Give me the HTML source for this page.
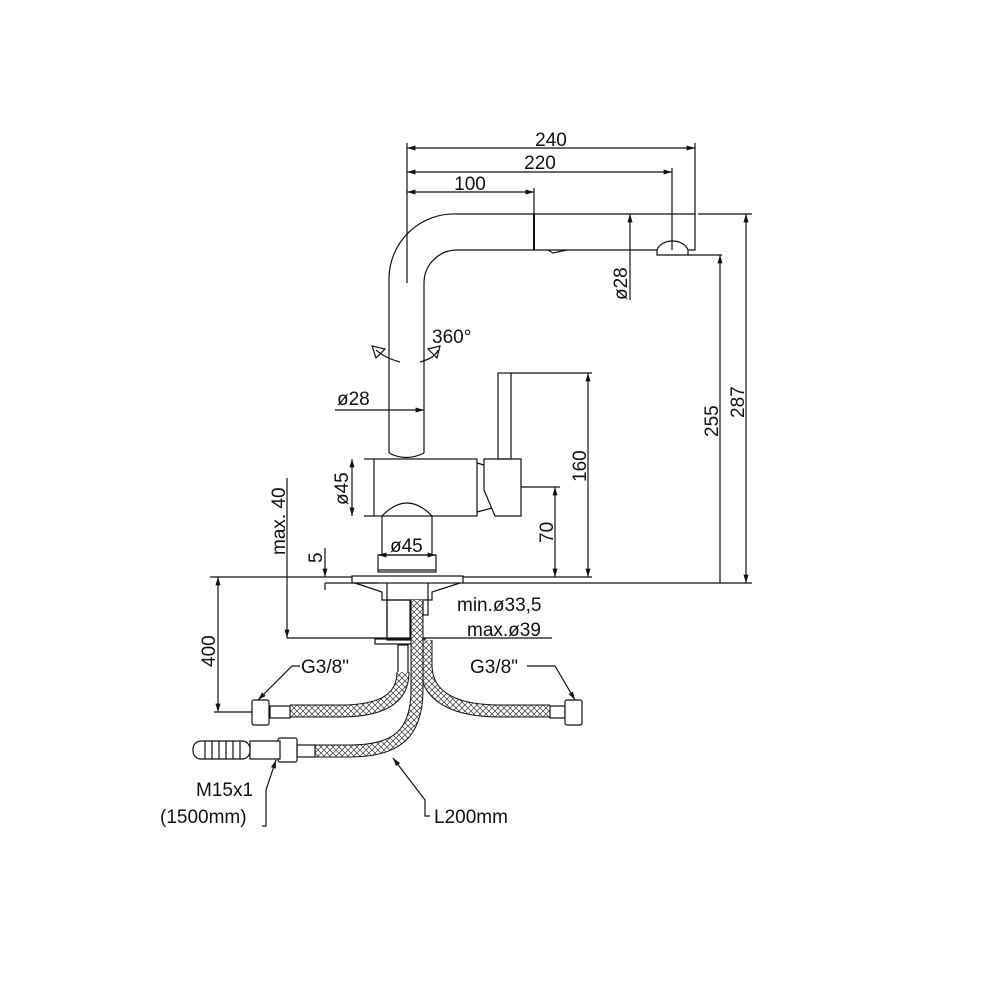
<!DOCTYPE html>
<html><head><style>html,body{margin:0;padding:0;background:#fff}svg{display:block}</style></head><body>
<svg width="1000" height="1000" viewBox="0 0 1000 1000" xmlns="http://www.w3.org/2000/svg" font-family="Liberation Sans, DejaVu Sans, sans-serif" font-size="19" fill="none" stroke="#111">
<defs>
<pattern id="h" width="6" height="6" patternUnits="userSpaceOnUse"><rect width="6" height="6" fill="#fff" stroke="none"/><path d="M0,0L6,6M6,0L0,6" stroke="#333" stroke-width="0.7"/></pattern>
<marker id="a" viewBox="0 0 10 10" refX="10" refY="5" markerWidth="7" markerHeight="7" orient="auto-start-reverse"><path d="M0,2L10,5L0,8" fill="#111" stroke="none"/></marker>
</defs>
<g stroke-width="1.2">
<line x1="407" y1="143" x2="407" y2="283"/>
<line x1="695" y1="143" x2="695" y2="214"/>
<line x1="672" y1="168" x2="672" y2="250"/>
<line x1="534" y1="188" x2="534" y2="214"/>
<line x1="407" y1="148" x2="695" y2="148" marker-start="url(#a)" marker-end="url(#a)"/>
<line x1="407" y1="172" x2="672" y2="172" marker-start="url(#a)" marker-end="url(#a)"/>
<line x1="407" y1="192" x2="534" y2="192" marker-start="url(#a)" marker-end="url(#a)"/>
<path d="M389,453 L389,279 A65,65 0 0 1 457,214 L695,214 L695,250 L688,250"/>
<path d="M424,453 L424,283 A33,33 0 0 1 457,250 L657,250"/>
<line x1="534" y1="214" x2="534" y2="250" stroke-width="2"/>
<path d="M548,250 L553,253 L567,250"/>
<path d="M657,255 L657,250 A16,12 0 0 1 688,250 L688,255 Z"/>
<line x1="698" y1="214" x2="752" y2="214"/>
<line x1="688" y1="255" x2="722" y2="255"/>
<line x1="746" y1="214" x2="746" y2="583" marker-start="url(#a)" marker-end="url(#a)"/>
<line x1="720" y1="255" x2="720" y2="583" marker-start="url(#a)"/>
<line x1="630" y1="214" x2="630" y2="300" marker-start="url(#a)"/>
<path d="M400,362 Q385,358 376,350"/><path d="M420,362 Q435,358 438,350"/>
<path d="M372,346 L385,349 L376,358 Z"/><path d="M440,346 L428,349 L437,358 Z"/>
<line x1="335" y1="410" x2="424" y2="410" marker-end="url(#a)"/>
<path d="M389,453 Q406,462 424,453"/>
<rect x="374" y="459" width="103" height="57"/>
<line x1="364" y1="459" x2="374" y2="459"/><line x1="364" y1="516" x2="374" y2="516"/>
<line x1="352" y1="459" x2="352" y2="516" marker-start="url(#a)" marker-end="url(#a)"/>
<rect x="498" y="373" width="13" height="86"/>
<line x1="511" y1="373" x2="592" y2="373"/>
<path d="M484,459 L521,459 L521,516 L495,516 L484,490 Z"/>
<path d="M477,463 L484,465"/><path d="M477,512 L492,508"/>
<line x1="521" y1="487" x2="560" y2="487"/>
<line x1="588" y1="373" x2="588" y2="577" marker-start="url(#a)" marker-end="url(#a)"/>
<line x1="555" y1="487" x2="555" y2="577" marker-start="url(#a)" marker-end="url(#a)"/>
<path d="M382,555 L382,516 Q407,490 432,516 L432,555"/>
<rect x="378" y="555" width="58" height="17"/>
<line x1="378" y1="555" x2="436" y2="555" marker-start="url(#a)" marker-end="url(#a)"/>
<line x1="378" y1="570" x2="436" y2="570"/>
<line x1="210" y1="577" x2="352" y2="577"/>
<line x1="463" y1="583" x2="752" y2="583"/>
<line x1="463" y1="577" x2="592" y2="577"/>
<rect x="352" y="576" width="111" height="7"/>
<path d="M355,583 L382,592 L382,600 L432,600 L432,592 L460,583"/>
<line x1="387" y1="583" x2="387" y2="640"/><line x1="428" y1="583" x2="428" y2="600"/>
<rect x="387" y="600" width="23" height="40"/>
<rect x="375" y="639" width="50" height="5"/>
<rect x="398" y="645" width="10" height="28"/>
<line x1="218" y1="577" x2="218" y2="712" marker-start="url(#a)" marker-end="url(#a)"/>
<line x1="214" y1="712" x2="252" y2="712"/>
<line x1="287" y1="478" x2="287" y2="638" marker-end="url(#a)"/>
<line x1="287" y1="638" x2="552" y2="638"/>
<line x1="325" y1="548" x2="325" y2="577" marker-end="url(#a)"/>
<line x1="325" y1="583" x2="325" y2="590"/>
<line x1="325" y1="583" x2="378" y2="583"/>
</g>
<g fill="none">
<path d="M403,672 C403,700 380,711 340,711 L290,711" stroke="#111" stroke-width="13"/>
<path d="M403,672 C403,700 380,711 340,711 L290,711" stroke="url(#h)" stroke-width="11"/>
<path d="M426,640 L426,665 C426,700 460,711 500,711 L550,711" stroke="#111" stroke-width="13"/>
<path d="M426,640 L426,665 C426,700 460,711 500,711 L550,711" stroke="url(#h)" stroke-width="11"/>
<path d="M417,600 L417,690 C417,735 395,751 350,751 L315,751" stroke="#111" stroke-width="13"/>
<path d="M417,600 L417,690 C417,735 395,751 350,751 L315,751" stroke="url(#h)" stroke-width="11"/>
</g>
<g stroke-width="1.2" fill="#fff">
<rect x="270" y="706" width="20" height="12"/><rect x="252" y="700" width="17" height="25" rx="2"/>
<rect x="550" y="706" width="15" height="12"/><rect x="565" y="700" width="17" height="25" rx="2"/>
<rect x="297" y="745" width="18" height="12"/><rect x="278" y="738" width="19" height="24" rx="2"/>
<rect x="250" y="741" width="30" height="18"/>
<rect x="193" y="741" width="57" height="18" rx="8"/>
<path d="M205,741v18M212,741v18M219,741v18M226,741v18M233,741v18M240,741v18" fill="none"/>
<rect x="423" y="600" width="5" height="15"/>
</g>
<g stroke-width="1.2" fill="none">
<path d="M300,666 L292,666 L258,700" marker-end="url(#a)"/>
<path d="M527,666 L555,666 L575,700" marker-end="url(#a)"/>
<path d="M262,826 L266,826 L266,790 L276,760" marker-end="url(#a)"/>
<path d="M430,816 L425,816 L425,800 L393,758" marker-end="url(#a)"/>
</g>
<g fill="#111" stroke="none">
<text x="551" y="146" text-anchor="middle">240</text>
<text x="540" y="169" text-anchor="middle">220</text>
<text x="470" y="190" text-anchor="middle">100</text>
<text x="432" y="343">360°</text>
<text x="337" y="405">ø28</text>
<text x="390" y="552">ø45</text>
<text x="457" y="611">min.ø33,5</text>
<text x="467" y="636">max.ø39</text>
<text x="301" y="673">G3/8"</text>
<text x="470" y="673">G3/8"</text>
<text x="196" y="796">M15x1</text>
<text x="160" y="823">(1500mm)</text>
<text x="434" y="823">L200mm</text>
<text transform="translate(627,300) rotate(-90)">ø28</text>
<text transform="translate(348,505) rotate(-90)">ø45</text>
<text transform="translate(718,437) rotate(-90)">255</text>
<text transform="translate(744,418) rotate(-90)">287</text>
<text transform="translate(586,482) rotate(-90)">160</text>
<text transform="translate(553,543) rotate(-90)">70</text>
<text transform="translate(285,555) rotate(-90)">max. 40</text>
<text transform="translate(322,563) rotate(-90)">5</text>
<text transform="translate(215,667) rotate(-90)">400</text>
</g>
</svg>
</body></html>
